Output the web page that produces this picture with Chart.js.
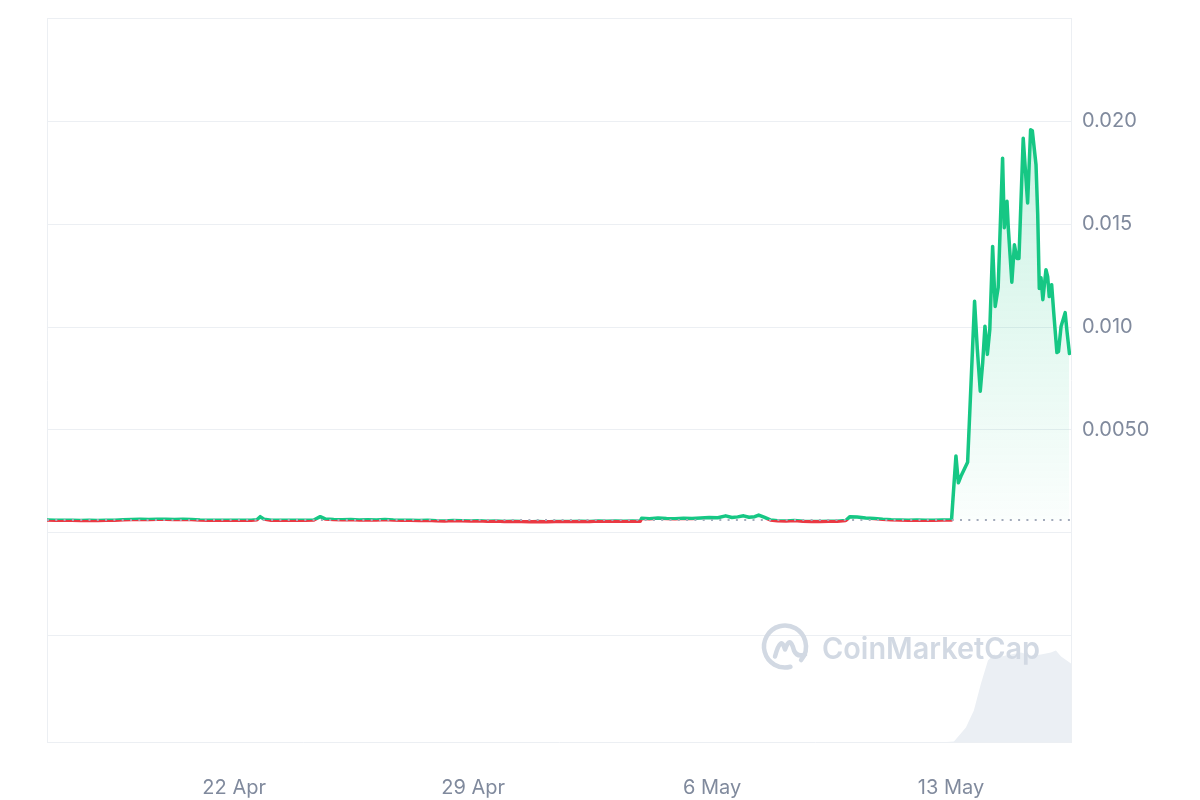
<!DOCTYPE html>
<html>
<head>
<meta charset="utf-8">
<script src="https://cdn.jsdelivr.net/npm/chart.js@4.4.1/dist/chart.umd.min.js"></script>
<style>
  html, body { margin: 0; padding: 0; background: #fff; }
  #wrap { width: 1200px; height: 800px; }
</style>
</head>
<body>
<div id="wrap"><canvas id="priceChart" width="1200" height="800"></canvas></div>
<script>
// hours counted from 16 Apr 00:00
const priceHours = [
  12.4, 18, 24, 30, 36, 42, 48, 54, 60, 66, 72, 78, 84, 90, 96, 102, 108, 114, 120, 126,
  132, 138, 144, 150, 156, 160, 162.3, 165, 170, 176, 182, 188, 194, 200, 204.5, 208, 214, 220, 226, 232,
  238, 244, 250, 256, 262, 268, 274, 280, 286, 292, 298, 304, 310, 316, 322, 328, 334, 340, 346, 352,
  358, 364, 370, 376, 382, 388, 394, 400, 406, 412, 418, 424, 429.5, 430.5, 436, 442, 448, 454, 460, 466,
  472, 478, 484, 489.6, 494, 498, 502.2, 506, 510, 512.8, 517, 521, 526, 532, 538, 544, 550, 556, 562, 568,
  574, 577, 582, 588, 594, 600, 606, 612, 618, 624, 630, 636, 642, 648.4,
  651.5, 653.2, 655.0, 659.7, 664.6, 666.5, 668.6, 670.3, 671.9, 673.6, 675.3, 677.3, 679.1, 681.2,
  684.3, 685.5, 687.4, 688.3, 690.8, 692.6, 694.4, 695.8, 698.8, 701.9, 704.0, 705.2, 707.8, 709.0,
  710.1, 711.3, 712.6, 714.8, 716.0, 717.1, 718.8, 720.2, 722.5, 723.6, 725.4, 728.3, 729.6, 731.3
];
const priceValues = [
  0.00062, 0.00061, 0.00060, 0.00060, 0.00059, 0.00060, 0.00059, 0.00060, 0.00061, 0.00063,
  0.00064, 0.00065, 0.00064, 0.00066, 0.00065, 0.00064, 0.00066, 0.00064, 0.00062, 0.00061,
  0.00060, 0.00060, 0.00061, 0.00060, 0.00060, 0.00063, 0.00078, 0.00066, 0.00061, 0.00061,
  0.00060, 0.00061, 0.00060, 0.00062, 0.00078, 0.00067, 0.00064, 0.00063, 0.00064, 0.00062,
  0.00063, 0.00062, 0.00064, 0.00062, 0.00061, 0.00060, 0.00059, 0.00060, 0.00058, 0.00057,
  0.00059, 0.00058, 0.00057, 0.00058, 0.00056, 0.00057, 0.00055, 0.00056, 0.00054, 0.00053,
  0.00054, 0.00053, 0.00054, 0.00055, 0.00054, 0.00056, 0.00055, 0.00057, 0.00056, 0.00057,
  0.00056, 0.00057, 0.00056, 0.00070, 0.00068, 0.00071, 0.00069, 0.00068, 0.00070, 0.00069,
  0.00072, 0.00074, 0.00073, 0.00082, 0.00074, 0.00077, 0.00082, 0.00075, 0.00078, 0.00086,
  0.00074, 0.00062, 0.00058, 0.00057, 0.00059, 0.00056, 0.00055, 0.00055, 0.00056, 0.00056,
  0.00059, 0.00078, 0.00076, 0.00072, 0.00069, 0.00065, 0.00063, 0.00062, 0.00061, 0.00062,
  0.00061, 0.00061, 0.00062, 0.00062,
  0.00373, 0.00243, 0.00274, 0.00342, 0.01125, 0.00896, 0.00688, 0.00826, 0.01004, 0.00867,
  0.00988, 0.01392, 0.01100, 0.01192, 0.01821, 0.01483, 0.01611, 0.01483, 0.01218, 0.01400,
  0.01333, 0.01333, 0.01918, 0.01603, 0.01959, 0.01954, 0.01789, 0.01546, 0.01187, 0.01240,
  0.01133, 0.01279, 0.01245, 0.01148, 0.01206, 0.01075, 0.00876, 0.00881, 0.01002, 0.01070,
  0.00978, 0.00871
];
const volumeHours = [12.4, 100, 200, 300, 400, 500, 600, 645, 650.1, 658.5, 664.1, 669.1, 674.0, 678.2, 683.1, 690.2, 697.2, 704.3, 711.3, 718.3, 721.8, 725.4, 732.4];
const volumeValues = [5, 4, 6, 5, 4, 6, 5, 6, 10, 150, 320, 590, 820, 880, 860, 880, 900, 870, 880, 900, 920, 860, 790];
const tickHours = [144, 312, 480, 648];
const tickLabels = ['22 Apr', '29 Apr', '6 May', '13 May'];
const priceTicks = [-0.005, 0, 0.005, 0.010, 0.015, 0.020, 0.025];

const basePrice = priceValues[0];
const green = '#16c784';
const red = '#ea3943';
const gridColor = '#eceff3';
const labelColor = '#808a9d';

const pricePoints = priceHours.map((h, i) => ({ x: h, y: priceValues[i] }));
const volumePoints = volumeHours.map((h, i) => ({ x: h, y: volumeValues[i] }));

// clip each copy of the price line to one side of the opening price
const sidePlugin = {
  id: 'side',
  beforeDatasetDraw(chart, args) {
    const side = args.meta._dataset.side;
    if (!side) return;
    const a = chart.chartArea;
    const by = chart.scales.y.getPixelForValue(basePrice);
    const ctx = chart.ctx;
    ctx.save();
    ctx.beginPath();
    if (side === 'up') ctx.rect(a.left - 5, a.top - 5, a.width + 10, by - a.top + 5);
    else ctx.rect(a.left - 5, by, a.width + 10, a.bottom - by + 5);
    ctx.clip();
  },
  afterDatasetDraw(chart, args) {
    if (args.meta._dataset.side) chart.ctx.restore();
  }
};

const framePlugin = {
  id: 'frame',
  beforeDatasetsDraw(chart) {
    const { ctx, chartArea: a } = chart;
    ctx.save();
    ctx.strokeStyle = gridColor;
    ctx.lineWidth = 1;
    ctx.beginPath();
    ctx.moveTo(a.left + 0.5, a.top);
    ctx.lineTo(a.left + 0.5, a.bottom);
    ctx.stroke();
    ctx.restore();
  }
};

const watermarkPlugin = {
  id: 'watermark',
  afterDatasetsDraw(chart) {
    const { ctx, chartArea: a } = chart;
    const cx = a.right - 286, cy = a.bottom - 96;
    ctx.save();
    ctx.strokeStyle = '#d2d9e3';
    ctx.fillStyle = '#d2d9e3';
    ctx.lineWidth = 4.5;
    ctx.lineCap = 'round';
    ctx.lineJoin = 'round';
    ctx.beginPath();
    ctx.arc(cx, cy, 21, 75 * Math.PI / 180, 400 * Math.PI / 180);
    ctx.stroke();
    ctx.beginPath();
    ctx.moveTo(cx - 10, cy + 10);
    ctx.quadraticCurveTo(cx - 4, cy - 12, cx, cy + 3);
    ctx.quadraticCurveTo(cx + 5, cy - 12, cx + 9, cy + 4);
    ctx.quadraticCurveTo(cx + 12, cy + 11, cx + 20, cy + 8);
    ctx.stroke();
    ctx.font = '600 30px Inter';
    ctx.textBaseline = 'alphabetic';
    const w = ctx.measureText('CoinMarketCap').width;
    const tx = a.right - 249, ty = a.bottom - 84;
    ctx.translate(tx, ty);
    ctx.scale(218 / w, 1);
    ctx.fillText('CoinMarketCap', 0, 0);
    ctx.restore();
  }
};

function fillGradient(context) {
  const chart = context.chart;
  const a = chart.chartArea;
  if (!a) return 'rgba(22,199,132,0.1)';
  const by = chart.scales.y.getPixelForValue(basePrice);
  const g = chart.ctx.createLinearGradient(0, a.top, 0, by);
  g.addColorStop(0, 'rgba(22,199,132,0.28)');
  g.addColorStop(1, 'rgba(22,199,132,0.02)');
  return g;
}

const ctx = document.getElementById('priceChart').getContext('2d');
new Chart(ctx, {
  type: 'line',
  data: {
    datasets: [
      {
        label: 'up',
        side: 'up',
        data: pricePoints,
        borderColor: green,
        borderWidth: 3.5,
        backgroundColor: fillGradient,
        fill: { target: { value: basePrice }, below: 'rgba(0,0,0,0)' },
        pointRadius: 0,
        tension: 0,
        borderJoinStyle: 'round',
        borderCapStyle: 'round',
        order: 2
      },
      {
        label: 'down',
        side: 'down',
        data: pricePoints,
        borderColor: red,
        borderWidth: 3.5,
        fill: false,
        pointRadius: 0,
        tension: 0,
        borderJoinStyle: 'round',
        borderCapStyle: 'round',
        order: 1
      },
      {
        label: 'open',
        data: [{ x: priceHours[0], y: basePrice }, { x: 732.4, y: basePrice }],
        borderColor: '#a3abbb',
        borderWidth: 2,
        borderDash: [2, 6.3],
        pointRadius: 0,
        fill: false,
        order: 0
      },
      {
        label: 'volume',
        data: volumePoints,
        yAxisID: 'yv',
        borderWidth: 0,
        backgroundColor: '#ebeff4',
        fill: 'origin',
        pointRadius: 0,
        tension: 0,
        order: 4
      }
    ]
  },
  options: {
    responsive: false,
    animation: false,
    layout: { padding: { left: 47, top: 18.5, right: 0, bottom: 0 } },
    plugins: {
      legend: { display: false },
      tooltip: { enabled: false }
    },
    scales: {
      x: {
        type: 'linear',
        min: 12.4,
        max: 732.4,
        afterBuildTicks: (scale) => { scale.ticks = tickHours.map(v => ({ value: v })); },
        afterFit: (scale) => { scale.height = 57.5; },
        grid: { display: false },
        border: { display: true, color: gridColor, width: 1 },
        ticks: {
          autoSkip: false,
          maxRotation: 0,
          padding: 25,
          color: labelColor,
          font: { family: 'Inter', size: 20 },
          callback: (v) => tickLabels[tickHours.indexOf(v)]
        }
      },
      y: {
        position: 'right',
        min: -0.0102,
        max: 0.025,
        afterBuildTicks: (scale) => { scale.ticks = priceTicks.map(v => ({ value: v })); },
        afterFit: (scale) => { scale.width = 129; },
        grid: { color: gridColor, lineWidth: 1, drawTicks: true, tickLength: 11, tickColor: 'rgba(0,0,0,0)' },
        border: { display: true, color: gridColor, width: 1 },
        ticks: {
          padding: 0,
          color: labelColor,
          font: { family: 'Inter', size: 20 },
          callback: (v) => (v > 0 && v < 0.025) ? v.toPrecision(2) : ''
        }
      },
      yv: {
        display: false,
        min: 0,
        max: 7240
      }
    }
  },
  plugins: [sidePlugin, framePlugin, watermarkPlugin]
});
</script>
</body>
</html>
